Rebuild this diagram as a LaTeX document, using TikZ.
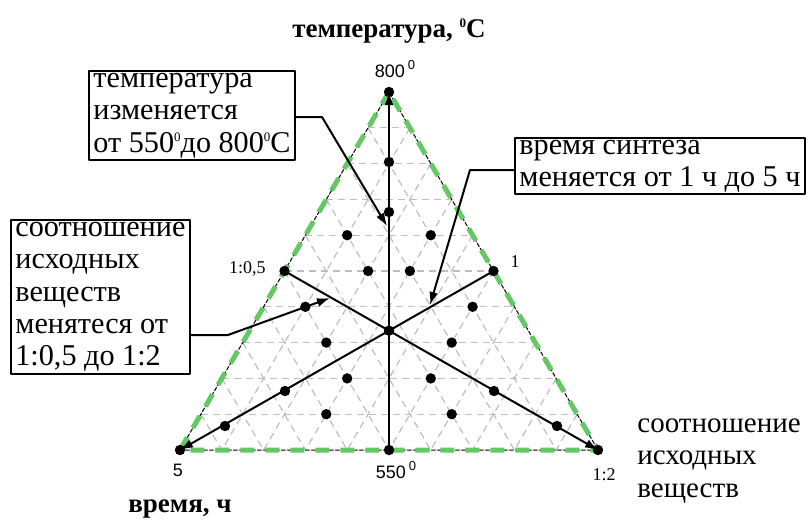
\documentclass[tikz,border=0pt]{standalone}
\usepackage{fontspec}
\setmainfont{Liberation Serif}
\newfontfamily\numfont{Liberation Sans}
\usetikzlibrary{arrows.meta}

\definecolor{edgegreen}{RGB}{100,200,100}
\definecolor{gridgray}{RGB}{190,190,190}
\newcommand\degz{\raisebox{0.75ex}{\fontsize{6.5}{7}\selectfont 0}}

\begin{document}
\begin{tikzpicture}[x=0.5pt,y=-0.5pt,line cap=round,line join=round,>={Latex[length=6.5pt,width=4.5pt]},
  every node/.style={inner sep=1pt},
  gridline/.style={gridgray,line width=0.6pt,dash pattern=on 3.5pt off 2.5pt,line cap=butt},
  axisline/.style={line width=1pt},
  leader/.style={line width=1pt},
  infobox/.style={draw,line width=1pt,align=left,anchor=north west,inner xsep=2.2pt,inner ysep=1pt,
    font=\fontsize{15.1}{16.2}\selectfont},
  sanstick/.style={font=\numfont\fontsize{9}{10}\selectfont},
  seriftick/.style={font=\fontsize{9}{10}\selectfont},
  axisname/.style={font=\fontsize{14.5}{16.3}\selectfont},
  axistitle/.style={font=\bfseries\fontsize{13.5}{16}\selectfont}]
  \useasboundingbox (0,0) rectangle (809,520);

  % triangular grid points (row k, place j)
  \foreach \k in {0,...,10}{
    \foreach \j in {0,...,\k}{
      \coordinate (g\k-\j) at ({389+(2*\j-\k)*20.9},{92+\k*35.8});
    }
  }
  \coordinate (ctr) at (389,330.7);

  % grey grid
  \foreach \m in {1,...,9}{
    \pgfmathtruncatemacro\n{10-\m}
    \draw[gridline] (g\m-0) -- (g\m-\m);
    \draw[gridline] (g\m-\m) -- (g10-\m);
    \draw[gridline] (g\m-0) -- (g10-\n);
  }

  % border
  \draw[line width=0.5pt,dash pattern=on 2pt off 1pt] (g0-0) -- (g10-0) -- (g10-10) -- cycle;
  \draw[edgegreen,line width=2.5pt,line cap=butt,dash pattern=on 7pt off 5.5pt] (g0-0) -- (g10-0) -- (g10-10) -- cycle;

  % axes
  \draw[axisline,->] (g10-5) -- (g0-0);
  \draw[axisline,->] (g5-5) -- (g10-0);
  \draw[axisline,->] (g5-0) -- (g10-10);

  % experiment points
  \coordinate (t1) at (389,162);
  \coordinate (t2) at (389,212);
  \coordinate (h1) at (225,426);
  \coordinate (h2) at (285,391);
  \coordinate (r1) at (557,426);
  \coordinate (r2) at (494,391);
  \foreach \p in {g0-0,g10-0,g10-10,g10-5,g5-0,g5-5,g4-1,g4-3,g5-2,g5-3,g6-1,g6-5,
                  g7-2,g7-5,g8-3,g8-5,g9-3,g9-6,t1,t2,h1,h2,r1,r2,ctr}{
    \fill (\p) circle[radius=2.6pt];
  }

  % scale labels
  \node[sanstick,anchor=base] (lab800) at (395,77) {800\,\degz};
  \node[sanstick,anchor=base] (lab550) at (396,478) {550\,\degz};
  \node[sanstick,anchor=base] (lab5) at (178,476) {5};
  \node[seriftick,anchor=base east] (lab05) at (268,273) {1:0,5};
  \node[seriftick,anchor=base] (lab1) at (515,267) {1};
  \node[seriftick,anchor=base] (lab12) at (604,480) {1:2};

  % axis names
  \node[axistitle,anchor=base] (temptitle) at (389,37) {температура, \degz С};
  \node[axistitle,anchor=base] (timetitle) at (180,512) {время, ч};
  \node[axisname,align=left,anchor=west] (rationame) at (635,461) {соотношение\\исходных\\веществ};

  % callouts
  \node[infobox] (tempbox) at (88,70)
    {температура\\изменяется\\от 550\degz до 800\degz С};
  \node[infobox] (timebox) at (514,137)
    {время синтеза\\меняется от 1 ч до 5 ч};
  \node[infobox] (ratiobox) at (10,219)
    {соотношение\\исходных\\веществ\\менятеся от\\1:0,5 до 1:2};

  \coordinate (tempbend) at (322,117);
  \coordinate (timebend) at (470,170);
  \coordinate (ratiobend) at (228,335);
  \coordinate (tempaim) at (387,226);
  \coordinate (timeaim) at (430,305);
  \coordinate (ratioaim) at (330,298);
  \draw[leader,->] (tempbox.east |- tempbend) -- (tempbend) -- (tempaim);
  \draw[leader,->] (timebox.west |- timebend) -- (timebend) -- (timeaim);
  \draw[leader,->] (ratiobox.east |- ratiobend) -- (ratiobend) -- (ratioaim);
\end{tikzpicture}
\end{document}
